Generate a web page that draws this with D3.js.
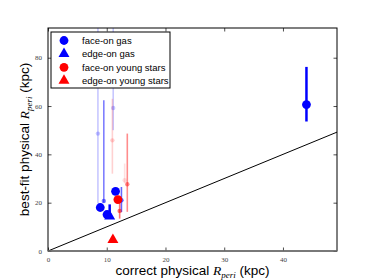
<!DOCTYPE html>
<html>
<head>
  <meta charset="utf-8">
  <title>R_peri fits</title>
  <script src="https://d3js.org/d3.v7.min.js"></script>
  <style>
    body { margin: 0; background: #fff; }
    .tick text { font-family: "Liberation Serif", serif; font-size: 7px; fill: #444; }
    .lab { font-family: "Liberation Sans", Arial, sans-serif; font-size: 13.5px; fill: #000; }
    .math { font-family: "Liberation Serif", serif; font-style: italic; }
    .leg text { font-family: "Liberation Sans", Arial, sans-serif; font-size: 9.5px; }
  </style>
</head>
<body>
<script>
  // big markers (best fits)
  var faceGasX = [8.9, 10.05, 11.5, 44.0],
    faceGasY = [18.0, 15.1, 24.7, 60.6],
    faceGasLo = [null, null, null, 53.6],
    faceGasHi = [null, null, null, 76.2];
  var edgeGasX = [10.5], edgeGasY = [14.3], edgeGasLo = [14.3], edgeGasHi = [19.3];
  var faceStarX = [11.9], faceStarY = [21.3];
  var edgeStarX = [11.05], edgeStarY = [4.6];

  // faint individual fits, weight = opacity
  var gasFitX = [8.5, 9.5, 11.1, 12.5],
    gasFitY = [48.6, 20.7, 59.2, 21.0],
    gasFitLo = [19.7, 20.0, 50.0, 16.1],
    gasFitHi = [110, 62.4, 110, 26.5],
    gasFitW = [0.22, 0.5, 0.22, 0.6];
  var starFitX = [10.96, 12.2, 13.05, 13.5],
    starFitY = [45.8, 16.6, 29.3, 27.6],
    starFitLo = [32.0, 13.4, 28.0, 16.2],
    starFitHi = [63.0, 21.0, 36.2, 48.6],
    starFitW = [0.18, 0.55, 0.12, 0.45];

  var xTicks = [0, 10, 20, 30, 40], yTicks = [0, 20, 40, 60, 80];
  var legendLabels = ["face-on gas", "edge-on gas", "face-on young stars", "edge-on young stars"];

  var W = 374, H = 280;
  var margin = { top: 28, right: 37, bottom: 29, left: 48 },
    width = W - margin.left - margin.right,
    height = H - margin.top - margin.bottom;

  var svg = d3.select("body").append("svg")
    .attr("width", W).attr("height", H);

  var x = d3.scaleLinear().domain([0, 49.2]).range([0, width]);
  var y = d3.scaleLinear().domain([0, 92.3]).range([height, 0]);

  var g = svg.append("g").attr("transform", "translate(" + margin.left + "," + margin.top + ")");

  g.append("clipPath").attr("id", "clip")
    .append("rect").attr("width", width).attr("height", height);

  var plot = g.append("g").attr("clip-path", "url(#clip)");

  // y = x line
  plot.append("line")
    .attr("x1", x(0)).attr("y1", y(0))
    .attr("x2", x(49.2)).attr("y2", y(49.2))
    .attr("stroke", "#000").attr("stroke-width", 1);

  function zipFits(xs, ys, lo, hi, w) {
    return xs.map(function (d, i) { return { x: d, y: ys[i], lo: lo[i], hi: hi[i], w: w[i] }; });
  }

  function drawFits(data, color) {
    var grp = plot.append("g");
    grp.selectAll("line").data(data).enter().append("line")
      .attr("x1", function (d) { return x(d.x); })
      .attr("x2", function (d) { return x(d.x); })
      .attr("y1", function (d) { return y(d.lo); })
      .attr("y2", function (d) { return y(d.hi); })
      .attr("stroke", color).attr("stroke-width", 1.6)
      .attr("stroke-opacity", function (d) { return d.w; });
    grp.selectAll("circle").data(data).enter().append("circle")
      .attr("cx", function (d) { return x(d.x); })
      .attr("cy", function (d) { return y(d.y); })
      .attr("r", 2.2)
      .attr("fill", color)
      .attr("fill-opacity", function (d) { return d.w; });
  }

  drawFits(zipFits(gasFitX, gasFitY, gasFitLo, gasFitHi, gasFitW), "#0000ff");
  drawFits(zipFits(starFitX, starFitY, starFitLo, starFitHi, starFitW), "#ff0000");

  var tri = d3.symbol().type(d3.symbolTriangle).size(52);

  function errbars(xs, lo, hi, color) {
    plot.append("g").selectAll("line")
      .data(xs.map(function (d, i) { return { x: d, lo: lo[i], hi: hi[i] }; })
        .filter(function (d) { return d.lo != null; }))
      .enter().append("line")
      .attr("x1", function (d) { return x(d.x); })
      .attr("x2", function (d) { return x(d.x); })
      .attr("y1", function (d) { return y(d.lo); })
      .attr("y2", function (d) { return y(d.hi); })
      .attr("stroke", color).attr("stroke-width", 2.5);
  }

  function circles(xs, ys, color) {
    plot.append("g").selectAll("circle").data(xs).enter().append("circle")
      .attr("cx", function (d) { return x(d); })
      .attr("cy", function (d, i) { return y(ys[i]); })
      .attr("r", 4.4).attr("fill", color);
  }

  function triangles(xs, ys, color) {
    plot.append("g").selectAll("path").data(xs).enter().append("path")
      .attr("d", tri)
      .attr("transform", function (d, i) { return "translate(" + x(d) + "," + y(ys[i]) + ")"; })
      .attr("fill", color);
  }

  errbars(faceGasX, faceGasLo, faceGasHi, "#0000ff");
  errbars(edgeGasX, edgeGasLo, edgeGasHi, "#0000ff");
  circles(faceGasX, faceGasY, "#0000ff");
  triangles(edgeGasX, edgeGasY, "#0000ff");
  circles(faceStarX, faceStarY, "#ff0000");
  triangles(edgeStarX, edgeStarY, "#ff0000");

  // axes, ticks inward on all sides
  function styleAxis(sel) {
    sel.select(".domain").remove();
    sel.selectAll(".tick line").attr("stroke", "#000").attr("stroke-width", 0.7);
  }
  g.append("g").attr("transform", "translate(0," + height + ")")
    .call(d3.axisBottom(x).tickValues(xTicks).tickSize(-3.5).tickPadding(6))
    .call(styleAxis);
  g.append("g")
    .call(d3.axisLeft(y).tickValues(yTicks).tickSize(-3.5).tickPadding(6))
    .call(styleAxis);
  g.append("g")
    .call(d3.axisTop(x).tickValues(xTicks).tickSize(-3.5).tickFormat(""))
    .call(styleAxis);
  g.append("g").attr("transform", "translate(" + width + ",0)")
    .call(d3.axisRight(y).tickValues(yTicks).tickSize(-3.5).tickFormat(""))
    .call(styleAxis);

  g.append("rect").attr("width", width).attr("height", height)
    .attr("fill", "none").attr("stroke", "#000").attr("stroke-width", 1);
  g.append("line").attr("x1", 0).attr("x2", width).attr("y1", height).attr("y2", height)
    .attr("stroke", "#777").attr("stroke-width", 1.6);

  // axis labels
  function rLabel(t, pre) {
    t.append("tspan").text(pre);
    t.append("tspan").attr("class", "math").text("R");
    t.append("tspan").attr("class", "math").attr("font-size", "9px").attr("dy", 3).text("peri");
    t.append("tspan").attr("dy", -3).text(" (kpc)");
  }
  var xl = svg.append("text").attr("class", "lab")
    .attr("x", margin.left + width / 2).attr("y", 275)
    .attr("text-anchor", "middle");
  rLabel(xl, "correct physical ");

  var yl = svg.append("text").attr("class", "lab")
    .attr("transform", "translate(29," + (margin.top + height / 2) + ") rotate(-90)")
    .attr("text-anchor", "middle");
  rLabel(yl, "best-fit physical ");

  // legend
  var leg = svg.append("g").attr("class", "leg").attr("transform", "translate(51,32)");
  leg.append("rect").attr("width", 119).attr("height", 56)
    .attr("fill", "#fff").attr("stroke", "#000").attr("stroke-width", 1);
  var legColors = ["#0000ff", "#0000ff", "#ff0000", "#ff0000"];
  var row = leg.selectAll(".row").data(legendLabels).enter().append("g")
    .attr("transform", function (d, i) { return "translate(13," + (8.5 + i * 13.4) + ")"; });
  row.each(function (d, i) {
    var r = d3.select(this);
    if (i % 2 === 0) r.append("circle").attr("r", 4.4).attr("fill", legColors[i]);
    else r.append("path").attr("d", tri).attr("fill", legColors[i]);
  });
  row.append("text").attr("x", 18).attr("dy", "0.35em").text(function (d) { return d; });
</script>
</body>
</html>
